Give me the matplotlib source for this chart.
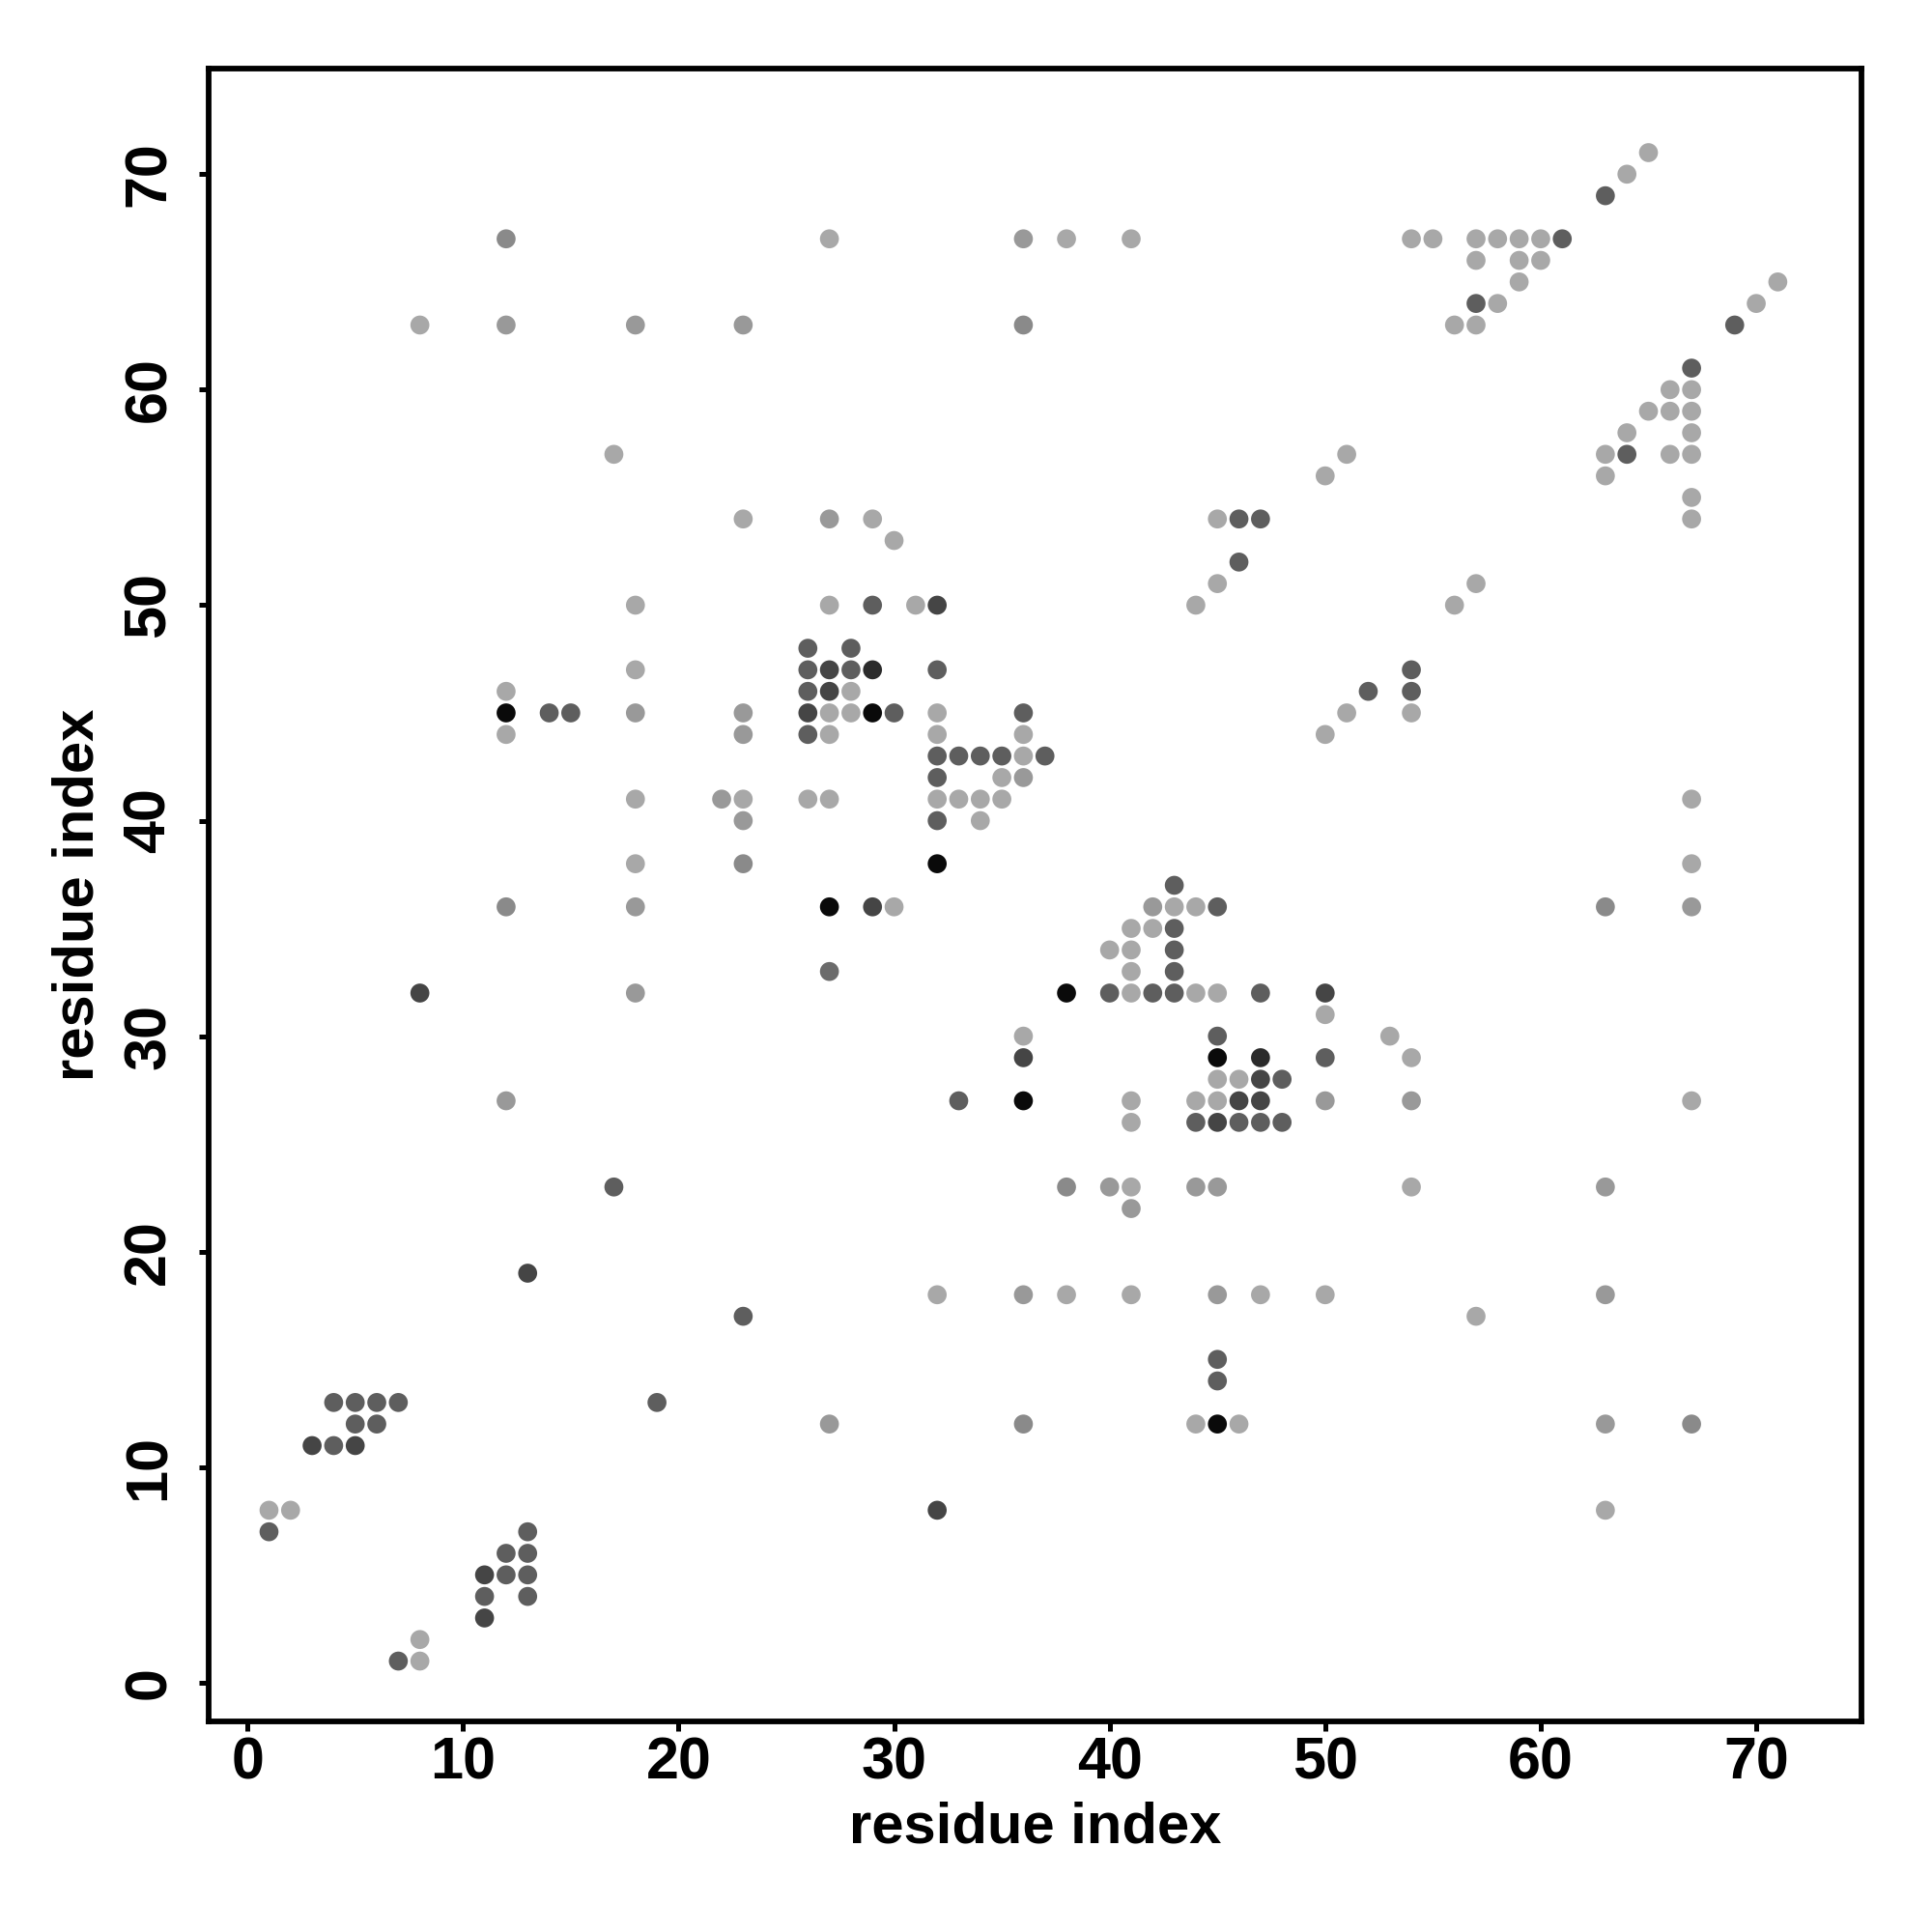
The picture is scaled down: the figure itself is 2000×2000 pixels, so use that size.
import matplotlib
matplotlib.use("Agg")
import matplotlib.pyplot as plt

plt.rcParams['font.family'] = ['Liberation Sans', 'DejaVu Sans']
plt.rcParams['font.weight'] = 'bold'

# gray levels of the contact dots (0 = black, 1 = white)
L, ML, M, MD, D, DD, VD, B = 0.66, 0.60, 0.54, 0.42, 0.37, 0.27, 0.17, 0.04

# contact map: residue i (x), residue j (y), gray level
res_i = [
    65,
    64,
    63,
    12, 27, 36, 38, 41, 54, 55, 57, 58, 59, 60, 61,
    57, 59, 60,
    59, 71,
    57, 58, 70,
    8, 12, 18, 23, 36, 56, 57, 69,
    67,
    66, 67,
    65, 66, 67,
    64, 67,
    17, 51, 63, 64, 66, 67,
    50, 63,
    67,
    23, 27, 29, 45, 46, 47, 67,
    30,
    46,
    45, 57,
    18, 27, 29, 31, 32, 44, 56,
    26, 28,
    18, 26, 27, 28, 29, 32, 54,
    12, 26, 27, 28, 52, 54,
    12, 14, 15, 18, 23, 26, 27, 28, 29, 30, 32, 36, 51, 54,
    12, 23, 26, 27, 32, 36, 50,
    32, 33, 34, 35, 36, 37,
    32, 35, 36,
    18, 22, 23, 26, 27, 32, 33, 34, 35, 67,
    23, 32, 34,
    18, 23, 32, 67,
    43,
    12, 18, 27, 29, 30, 42, 43, 44, 45, 63, 67,
    41, 42, 43,
    40, 41, 43,
    27, 41, 43,
    8, 18, 38, 40, 41, 42, 43, 44, 45, 47, 50,
    50,
    36, 45, 53,
    36, 45, 47, 50, 54,
    45, 46, 47, 48,
    12, 33, 36, 41, 44, 45, 46, 47, 50, 54, 67,
    41, 44, 45, 46, 47, 48,
    17, 38, 40, 41, 44, 45, 54, 63,
    41,
    13,
    32, 36, 38, 41, 45, 47, 50, 63,
    23, 57,
    45,
    45,
    4, 5, 6, 7, 19,
    5, 6, 27, 36, 44, 45, 46, 63, 67,
    3, 4, 5,
    1, 2, 32, 63,
    1, 13,
    12, 13,
    11, 12, 13,
    11, 13,
    11,
    8,
    7, 8,
]
res_j = [
    71,
    70,
    69,
    67, 67, 67, 67, 67, 67, 67, 67, 67, 67, 67, 67,
    66, 66, 66,
    65, 65,
    64, 64, 64,
    63, 63, 63, 63, 63, 63, 63, 63,
    61,
    60, 60,
    59, 59, 59,
    58, 58,
    57, 57, 57, 57, 57, 57,
    56, 56,
    55,
    54, 54, 54, 54, 54, 54, 54,
    53,
    52,
    51, 51,
    50, 50, 50, 50, 50, 50, 50,
    48, 48,
    47, 47, 47, 47, 47, 47, 47,
    46, 46, 46, 46, 46, 46,
    45, 45, 45, 45, 45, 45, 45, 45, 45, 45, 45, 45, 45, 45,
    44, 44, 44, 44, 44, 44, 44,
    43, 43, 43, 43, 43, 43,
    42, 42, 42,
    41, 41, 41, 41, 41, 41, 41, 41, 41, 41,
    40, 40, 40,
    38, 38, 38, 38,
    37,
    36, 36, 36, 36, 36, 36, 36, 36, 36, 36, 36,
    35, 35, 35,
    34, 34, 34,
    33, 33, 33,
    32, 32, 32, 32, 32, 32, 32, 32, 32, 32, 32,
    31,
    30, 30, 30,
    29, 29, 29, 29, 29,
    28, 28, 28, 28,
    27, 27, 27, 27, 27, 27, 27, 27, 27, 27, 27,
    26, 26, 26, 26, 26, 26,
    23, 23, 23, 23, 23, 23, 23, 23,
    22,
    19,
    18, 18, 18, 18, 18, 18, 18, 18,
    17, 17,
    15,
    14,
    13, 13, 13, 13, 13,
    12, 12, 12, 12, 12, 12, 12, 12, 12,
    11, 11, 11,
    8, 8, 8, 8,
    7, 7,
    6, 6,
    5, 5, 5,
    4, 4,
    3,
    2,
    1, 1,
]
shade = [
    L,
    L,
    D,
    M, L, ML, L, L, L, L, L, L, L, L, D,
    L, L, L,
    L, L,
    D, L, L,
    L, ML, ML, ML, M, L, L, D,
    D,
    L, L,
    L, L, L,
    L, L,
    L, L, L, D, L, L,
    L, L,
    L,
    L, ML, L, L, D, D, L,
    L,
    D,
    L, L,
    L, L, D, L, DD, L, L,
    D, D,
    L, D, DD, D, VD, D, D,
    L, D, DD, L, D, D,
    B, D, D, ML, ML, DD, L, L, B, D, L, D, L, L,
    L, ML, D, L, L, L, L,
    D, D, D, D, L, D,
    D, L, ML,
    L, ML, L, L, L, L, L, L, L, L,
    ML, D, L,
    L, M, B, L,
    D,
    M, ML, B, DD, L, ML, L, L, D, M, ML,
    L, L, D,
    L, L, D,
    MD, L, D,
    DD, ML, B, D, L, D, D, L, L, D, DD,
    L,
    L, D, L,
    DD, B, VD, D, L,
    L, L, DD, D,
    ML, D, B, L, L, L, DD, DD, ML, ML, L,
    L, D, DD, D, D, D,
    D, M, ML, L, ML, ML, L, ML,
    ML,
    DD,
    L, ML, L, L, ML, L, L, ML,
    D, L,
    D,
    D,
    D, D, D, D, D,
    D, D, ML, M, L, B, L, ML, M,
    DD, D, DD,
    L, L, DD, L,
    D, D,
    D, D,
    DD, D, D,
    D, D,
    DD,
    L,
    D, L,
]
assert len(res_i) == len(res_j) == len(shade)

ticks = [0, 10, 20, 30, 40, 50, 60, 70]

fig = plt.figure(figsize=(10, 10), dpi=200)
ax = fig.add_axes([0.108, 0.109, 0.8557, 0.8555])

ax.scatter(res_i, res_j, s=50, c=[str(g) for g in shade], edgecolors='none')

ax.set_xlim(-1.8, 74.9)
ax.set_ylim(-1.8, 74.9)
ax.set_xticks(ticks)
ax.set_yticks(ticks)
ax.tick_params(axis='both', direction='out', length=3.6, width=1.8, labelsize=22)
ax.tick_params(axis='x', pad=2)
ax.tick_params(axis='y', pad=8)
for lab in ax.get_yticklabels():
    lab.set_rotation(90)
    lab.set_va('center')
for lab in ax.get_xticklabels() + ax.get_yticklabels():
    lab.set_fontweight('bold')
for sp in ax.spines.values():
    sp.set_linewidth(2.1)

ax.set_xlabel('residue index', fontsize=21.5, fontweight='bold')
ax.set_ylabel('residue index', fontsize=21.5, fontweight='bold')
ax.xaxis.set_label_coords(0.5, -0.064)
ax.xaxis.label.set_va('center')
ax.yaxis.set_label_coords(-0.079, 0.5)
ax.yaxis.label.set_va('center')

fig.savefig('out.png', dpi=200)
